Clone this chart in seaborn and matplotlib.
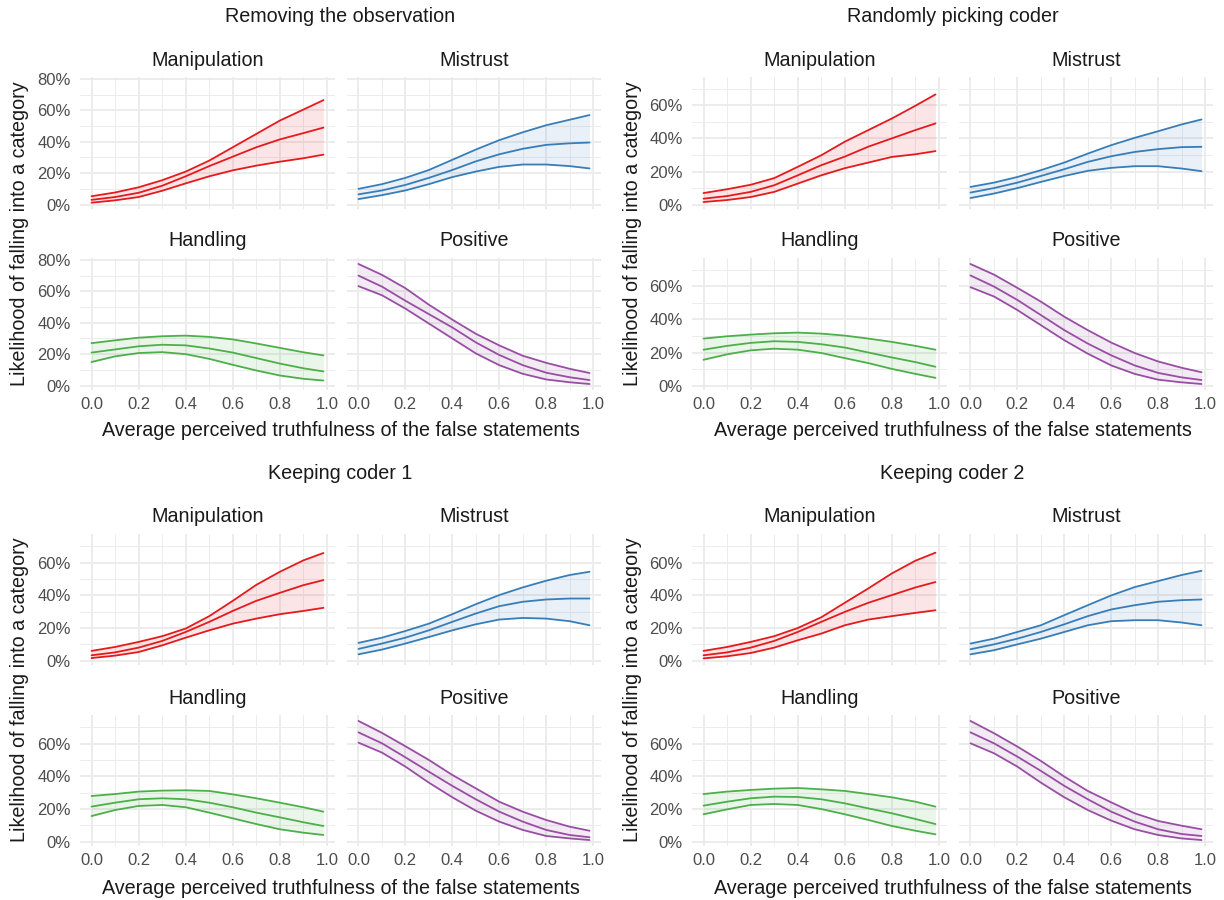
import numpy as np
import pandas as pd
import matplotlib
matplotlib.use("Agg")
import matplotlib.pyplot as plt
import seaborn as sns
from matplotlib.ticker import MultipleLocator, FuncFormatter

# ---------------- data (values in %) ----------------
x_vals = [0.0, 0.1, 0.2, 0.3, 0.4, 0.5, 0.6, 0.7, 0.8, 0.9, 0.985]

panel_titles = ["Removing the observation", "Randomly picking coder",
                "Keeping coder 1", "Keeping coder 2"]
categories = ["Manipulation", "Mistrust", "Handling", "Positive"]
cat_colors = ["#E41A1C", "#377EB8", "#4DAF4A", "#984EA3"]

x_ticks = [0.0, 0.2, 0.4, 0.6, 0.8, 1.0]
x_label = "Average perceived truthfulness of the false statements"
y_label = "Likelihood of falling into a category"

# Removing the observation
rm_manip_hi = [5.3, 7.7, 11, 15.5, 21, 28, 36.5, 45, 53.5, 60.5, 66.5]
rm_manip_mid = [3, 4.8, 7.5, 12, 18, 24.5, 30.5, 36.5, 41.5, 45.5, 49]
rm_manip_lo = [1.2, 2.7, 4.8, 8.8, 13.5, 18, 21.8, 24.8, 27.3, 29.5, 31.8]
rm_mist_hi = [10, 13, 17, 22, 28.5, 35, 41, 46, 50.5, 54, 57]
rm_mist_mid = [6.5, 9, 12.5, 17, 22, 27.5, 32, 35.5, 38, 39, 39.5]
rm_mist_lo = [3.5, 6, 9, 13, 17.5, 21, 24, 25.5, 25.5, 24.5, 23]
rm_hand_hi = [27, 28.8, 30.5, 31.4, 31.8, 31, 29.4, 26.8, 24, 21.2, 19.2]
rm_hand_mid = [21, 23, 25, 26, 25.6, 23.6, 21, 17.5, 14, 11, 9]
rm_hand_lo = [15, 18.6, 20.7, 21.3, 20, 17, 13.2, 9.6, 6.4, 4.3, 3.2]
rm_pos_hi = [77.4, 70.5, 62, 51.5, 42, 33, 25.6, 19, 14.5, 10.7, 8]
rm_pos_mid = [70, 63, 54, 45.5, 37, 27.5, 19.5, 13, 8.2, 5.3, 3.5]
rm_pos_lo = [63.3, 57.5, 49, 39.5, 30, 20.5, 13, 7.5, 3.9, 2.1, 1]

# Randomly picking coder
rp_manip_hi = [7, 9.3, 12, 16, 22.8, 29.8, 38, 45, 52, 59.7, 66.5]
rp_manip_mid = [3.6, 5.2, 7.7, 11.7, 17.7, 23.8, 29, 35, 40, 45, 49]
rp_manip_lo = [1.6, 2.8, 4.6, 7.7, 12.7, 17.7, 22, 25.4, 28.8, 30.4, 32.3]
rp_mist_hi = [10.7, 13.3, 16.7, 20.8, 25.4, 30.8, 35.9, 40.3, 44.3, 48.4, 51.4]
rp_mist_mid = [7.3, 10, 13.3, 17.3, 21.4, 25.8, 29.2, 31.8, 33.5, 34.7, 34.9]
rp_mist_lo = [4, 6.7, 10, 13.7, 17.3, 20.4, 22.2, 23.2, 23.2, 21.8, 20.2]
rp_hand_hi = [28.4, 29.8, 30.8, 31.6, 32, 31.4, 30.2, 28.4, 26.4, 24, 21.7]
rp_hand_mid = [21.7, 24, 25.8, 26.8, 26.4, 25, 23, 20, 17, 14.2, 11.4]
rp_hand_lo = [15.6, 18.9, 21.3, 22.3, 21.7, 19.7, 16.6, 13.6, 10.1, 7.1, 4.7]
rp_pos_hi = [73.4, 67, 59, 50.7, 41.6, 33.5, 26, 19.7, 14.6, 10.8, 8.1]
rp_pos_mid = [66.5, 59.8, 51.7, 42.6, 33.5, 25.4, 18.3, 12.2, 7.7, 5, 3.4]
rp_pos_lo = [59.4, 53.8, 45.6, 36.5, 27.4, 19.3, 12.2, 7.1, 3.6, 2, 1]

# Keeping coder 1
k1_manip_hi = [6, 8.4, 11.5, 15, 19.7, 27.3, 36.7, 46.5, 54.5, 61.5, 66]
k1_manip_mid = [3.3, 5.1, 8, 12.1, 17.6, 23.8, 30.5, 36.7, 41.6, 46.3, 49.4]
k1_manip_lo = [1.6, 3.1, 5.3, 9.4, 14.1, 18.6, 22.7, 25.8, 28.5, 30.5, 32.4]
k1_mist_hi = [10.9, 14.1, 18.2, 22.7, 28.5, 34.6, 40.2, 44.9, 49, 52.5, 54.5]
k1_mist_mid = [7.2, 10.5, 14.1, 18.6, 23.8, 28.9, 33.4, 36.1, 37.5, 38.1, 38.1]
k1_mist_lo = [3.9, 6.8, 10.5, 14.5, 18.6, 22.3, 25.2, 26.2, 25.8, 24.2, 21.7]
k1_hand_hi = [28, 29.2, 30.7, 31.3, 31.5, 31.1, 29, 26.6, 23.9, 21.1, 18.4]
k1_hand_mid = [21.5, 23.9, 26, 26.6, 26, 23.9, 21.1, 17.8, 14.9, 11.9, 9.6]
k1_hand_lo = [15.7, 19.4, 21.9, 22.5, 21.1, 17.8, 14.3, 10.8, 7.6, 5.5, 4.1]
k1_pos_hi = [74, 66.7, 58.5, 50.1, 40.9, 32.7, 24.5, 18.4, 13.3, 9.2, 6.7]
k1_pos_mid = [67, 60.3, 51.7, 42.9, 34.2, 26, 18.4, 12.3, 7.2, 4.1, 2.7]
k1_pos_lo = [60.7, 54.6, 46, 36.2, 27.2, 19, 12.3, 7.2, 3.5, 2, 1]

# Keeping coder 2
k2_manip_hi = [6, 8.4, 11.5, 15, 20, 26.6, 35.5, 44.3, 53.5, 61.3, 66.2]
k2_manip_mid = [3.3, 5.1, 8, 12.1, 17.6, 23.8, 29.9, 35.5, 40.2, 44.9, 48.2]
k2_manip_lo = [1.4, 2.7, 4.7, 8, 12.5, 16.6, 21.7, 25.2, 27.3, 29.3, 30.9]
k2_mist_hi = [10.5, 13.5, 17.6, 21.7, 27.9, 34, 40, 45.1, 48.8, 52.5, 55.1]
k2_mist_mid = [7, 10, 13.5, 17.6, 22.3, 27.3, 31.4, 34, 36.1, 37.1, 37.5]
k2_mist_lo = [3.9, 6.4, 10, 13.5, 17.6, 21.7, 24.2, 24.8, 24.8, 23.4, 21.7]
k2_hand_hi = [29.2, 30.7, 31.7, 32.5, 32.9, 32.1, 31.1, 29.2, 27.2, 24.5, 21.5]
k2_hand_mid = [22.1, 24.5, 26.6, 27.6, 27.4, 26, 23.5, 20.4, 17.4, 13.9, 10.8]
k2_hand_lo = [16.8, 19.8, 22.5, 23.1, 22.5, 20, 16.8, 13.3, 9.6, 6.7, 4.5]
k2_pos_hi = [74, 66.5, 58.3, 49.5, 39.9, 31.1, 24.1, 17.4, 12.7, 9.8, 7.6]
k2_pos_mid = [67, 60.3, 52.1, 43.4, 34.2, 26, 18.4, 12.3, 7.6, 4.7, 3.5]
k2_pos_lo = [60.3, 54.2, 46, 36.2, 27.2, 19.4, 12.9, 7.6, 4.1, 2, 1]

series = {
    panel_titles[0]: {
        "Manipulation": (rm_manip_lo, rm_manip_mid, rm_manip_hi),
        "Mistrust": (rm_mist_lo, rm_mist_mid, rm_mist_hi),
        "Handling": (rm_hand_lo, rm_hand_mid, rm_hand_hi),
        "Positive": (rm_pos_lo, rm_pos_mid, rm_pos_hi)},
    panel_titles[1]: {
        "Manipulation": (rp_manip_lo, rp_manip_mid, rp_manip_hi),
        "Mistrust": (rp_mist_lo, rp_mist_mid, rp_mist_hi),
        "Handling": (rp_hand_lo, rp_hand_mid, rp_hand_hi),
        "Positive": (rp_pos_lo, rp_pos_mid, rp_pos_hi)},
    panel_titles[2]: {
        "Manipulation": (k1_manip_lo, k1_manip_mid, k1_manip_hi),
        "Mistrust": (k1_mist_lo, k1_mist_mid, k1_mist_hi),
        "Handling": (k1_hand_lo, k1_hand_mid, k1_hand_hi),
        "Positive": (k1_pos_lo, k1_pos_mid, k1_pos_hi)},
    panel_titles[3]: {
        "Manipulation": (k2_manip_lo, k2_manip_mid, k2_manip_hi),
        "Mistrust": (k2_mist_lo, k2_mist_mid, k2_mist_hi),
        "Handling": (k2_hand_lo, k2_hand_mid, k2_hand_hi),
        "Positive": (k2_pos_lo, k2_pos_mid, k2_pos_hi)},
}

rows = []
for p, cats in series.items():
    for c, (lo, mid, hi) in cats.items():
        for xv, a, b, d in zip(x_vals, lo, mid, hi):
            rows.append(dict(panel=p, category=c, x=xv, lo=a, mid=b, hi=d))
df = pd.DataFrame(rows)

# ---------------- style ----------------
sns.set_theme(style="white")
plt.rcParams["font.family"] = ["Liberation Sans", "DejaVu Sans"]

W, H = 1224, 900
fig = plt.figure(figsize=(W / 100, H / 100), dpi=100)
fig.patch.set_facecolor("white")

def px_axes(l, t, r, b):
    return fig.add_axes([l / W, 1 - b / H, (r - l) / W, (b - t) / H])

col_off = [0, 612]
row_boxes = [((77, 209), (258, 390)), ((534, 665), (715, 846))]
facet_cols = [(80, 335), (347, 601)]
title_color = "#1A1A1A"
tick_color = "#4D4D4D"
TITLE_FS = 14.2
TICK_FS = 12

for pi, ptitle in enumerate(panel_titles):
    prow, pcol = divmod(pi, 2)
    xo = col_off[pcol]
    sub = df[df.panel == ptitle]
    vmin = sub[["lo", "mid", "hi"]].min().min()
    vmax = sub[["lo", "mid", "hi"]].max().max()
    rng = vmax - vmin
    ylim = (vmin - 0.05 * rng, vmax + 0.05 * rng)
    (t0, b0), (t1, b1) = row_boxes[prow]
    for ci, cat in enumerate(categories):
        fr, fc = divmod(ci, 2)
        t, b = (t0, b0) if fr == 0 else (t1, b1)
        l, r = facet_cols[fc]
        ax = px_axes(l + xo, t, r + xo, b)
        ax.set_facecolor("white")
        d = sub[sub.category == cat]
        col = cat_colors[ci]
        ax.fill_between(d.x, d.lo, d.hi, color=col, alpha=0.11, lw=0, zorder=2)
        for key in ["lo", "mid", "hi"]:
            sns.lineplot(data=d, x="x", y=key, ax=ax, color=col, lw=1.3,
                         zorder=3, estimator=None, sort=True)
        ax.set_xlim(-0.049, 1.034)
        ax.set_ylim(*ylim)
        ax.xaxis.set_major_locator(MultipleLocator(0.2))
        ax.xaxis.set_minor_locator(MultipleLocator(0.1))
        ax.yaxis.set_major_locator(MultipleLocator(20))
        ax.yaxis.set_minor_locator(MultipleLocator(10))
        ax.grid(which="major", color="#EBEBEB", lw=1.3, zorder=0)
        ax.grid(which="minor", color="#EBEBEB", lw=0.65, zorder=0)
        ax.set_axisbelow(True)
        for s in ax.spines.values():
            s.set_visible(False)
        ax.tick_params(which="both", length=0, labelsize=TICK_FS,
                       labelcolor=tick_color)
        ax.tick_params(axis="y", pad=6.5)
        ax.tick_params(axis="x", pad=5)
        ax.set_xlabel("")
        ax.set_ylabel("")
        if fc == 0:
            ax.yaxis.set_major_formatter(FuncFormatter(lambda v, _: f"{v:.0f}%"))
        else:
            ax.set_yticklabels([])
        if fr == 1:
            ax.xaxis.set_major_formatter(FuncFormatter(lambda v, _: f"{v:.1f}"))
        else:
            ax.set_xticklabels([])
        fig.text((l + r) / 2 / W + xo / W, 1 - (t - 17) / H, cat,
                 ha="center", va="center", fontsize=TITLE_FS, color=title_color)
    # panel title
    cx = ((facet_cols[0][0] + facet_cols[1][1]) / 2 + xo) / W
    ty = 17 if prow == 0 else 474
    fig.text(cx, 1 - ty / H, ptitle, ha="center", va="center",
             fontsize=TITLE_FS, color=title_color)
    # axis labels
    xl_y = 431 if prow == 0 else 888
    fig.text(cx, 1 - xl_y / H, x_label, ha="center", va="center",
             fontsize=TITLE_FS, color=title_color)
    yl_y = (t0 + b1) / 2
    fig.text((20 + xo) / W, 1 - yl_y / H, y_label, ha="center", va="center",
             rotation=90, fontsize=TITLE_FS, color=title_color)

fig.savefig("out.png", dpi=100, facecolor="white")
